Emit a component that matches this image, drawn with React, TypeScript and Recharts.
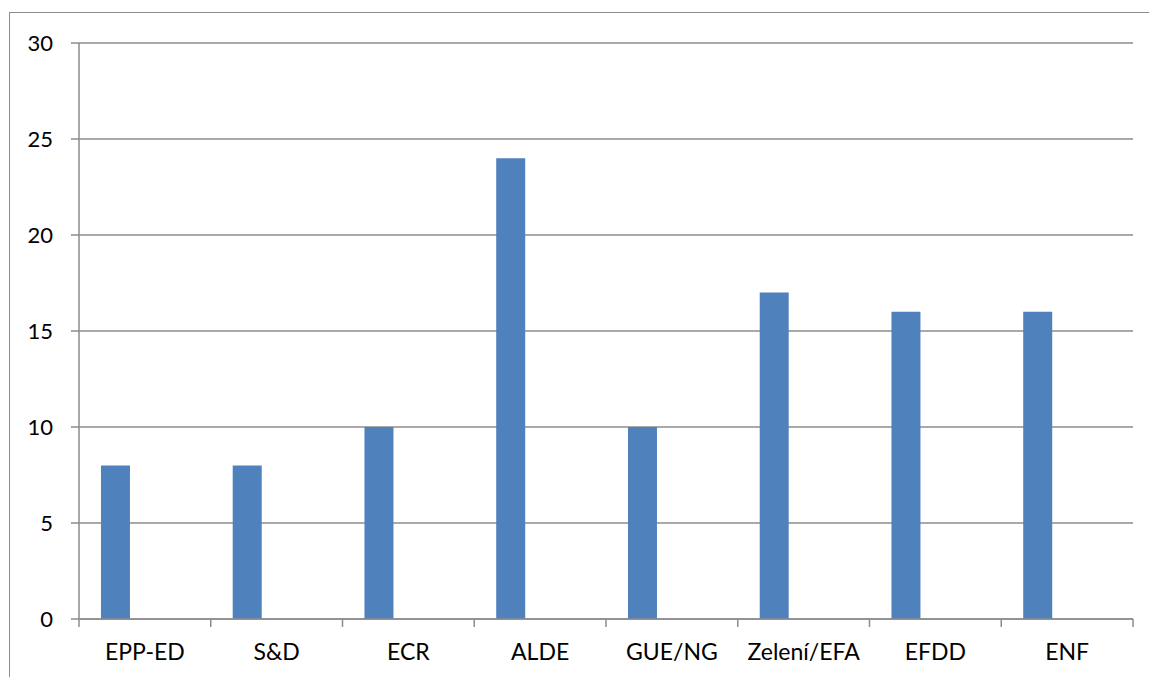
import React from 'react';
import { BarChart, Bar, XAxis, YAxis, CartesianGrid } from 'recharts';

const groups = ['EPP-ED', 'S&D', 'ECR', 'ALDE', 'GUE/NG', 'Zelení/EFA', 'EFDD', 'ENF'];
const seriesA = [8, 8, 10, 24, 10, 17, 16, 16];
const seriesB: (number | null)[] = [null, null, null, null, null, null, null, null];
const seriesC: (number | null)[] = [null, null, null, null, null, null, null, null];
const yTicks = [0, 5, 10, 15, 20, 25, 30];

const data = groups.map((name, i) => ({ name, a: seriesA[i], b: seriesB[i], c: seriesC[i] }));

const W = 1149;
const H = 677;
const margin = { top: 43, right: 16, left: 0, bottom: 0 };
const yAxisWidth = 79;
const xAxisHeight = 58;
const bandWidth = (W - yAxisWidth - margin.right) / groups.length;
const FONT = 'Lato, "Noto Sans", sans-serif';
const GREY = '#8c8c8c';

const CategoryTick = (props: any) => {
  const { x, y, payload, index } = props;
  const left = x - bandWidth / 2;
  const right = x + bandWidth / 2;
  return (
    <g>
      <line x1={left} y1={y} x2={left} y2={y + 8} stroke={GREY} strokeWidth={1.5} />
      {index === groups.length - 1 && (
        <line x1={right} y1={y} x2={right} y2={y + 8} stroke={GREY} strokeWidth={1.5} />
      )}
      <text x={x} y={y + 33} dy="0.35em" textAnchor="middle" fill="#000" fontSize={23} fontFamily={FONT}>
        {payload.value}
      </text>
    </g>
  );
};

export default function App() {
  return (
    <div style={{ position: 'absolute', left: 0, top: 0, width: W, height: H, overflow: 'hidden', background: '#fff' }}>
      <div
        style={{
          position: 'absolute',
          left: 9,
          top: 12,
          width: 1300,
          height: 800,
          border: `1.5px solid ${GREY}`,
        }}
      />
      <div style={{ position: 'absolute', left: 0, top: 0 }}>
        <BarChart
          width={W}
          height={H}
          data={data}
          margin={margin}
          barCategoryGap="16.67%"
          barGap={0}
        >
          <CartesianGrid vertical={false} stroke={GREY} strokeWidth={1.5} />
          <XAxis
            dataKey="name"
            height={xAxisHeight}
            axisLine={{ stroke: GREY, strokeWidth: 1.5 }}
            tickLine={false}
            tickSize={0}
            tickMargin={0}
            interval={0}
            tick={<CategoryTick />}
          />
          <YAxis
            type="number"
            domain={[0, 30]}
            ticks={yTicks}
            width={yAxisWidth}
            axisLine={{ stroke: GREY, strokeWidth: 1.5 }}
            tickLine={{ stroke: GREY, strokeWidth: 1.5 }}
            tickSize={8}
            tickMargin={18}
            tick={{ fill: '#000', fontSize: 22, fontFamily: FONT }}
          />
          <Bar dataKey="a" fill="#4f81bd" isAnimationActive={false} />
          <Bar dataKey="b" fill="#c0504d" isAnimationActive={false} />
          <Bar dataKey="c" fill="#9bbb59" isAnimationActive={false} />
        </BarChart>
      </div>
    </div>
  );
}
